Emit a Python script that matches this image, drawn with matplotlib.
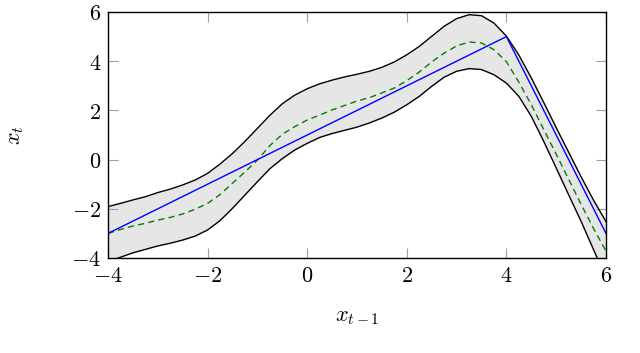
import matplotlib
matplotlib.use("Agg")
import matplotlib.pyplot as plt

plt.rcParams['mathtext.fontset'] = 'cm'
plt.rcParams['font.family'] = 'DejaVu Serif'

# sampled curves (step 0.25 from -4 to 6)
xs = [-4.0, -3.75, -3.5, -3.25, -3.0, -2.75, -2.5, -2.25, -2.0, -1.75,
      -1.5, -1.25, -1.0, -0.75, -0.5, -0.25, 0.0, 0.25, 0.5, 0.75,
      1.0, 1.25, 1.5, 1.75, 2.0, 2.25, 2.5, 2.75, 3.0, 3.25,
      3.5, 3.75, 4.0, 4.25, 4.5, 4.75, 5.0, 5.25, 5.5, 5.75, 6.0]
upper = [-1.91, -1.78, -1.64, -1.51, -1.34, -1.20, -1.03, -0.83, -0.56, -0.18,
         0.25, 0.74, 1.27, 1.80, 2.27, 2.62, 2.88, 3.08, 3.23, 3.36,
         3.47, 3.59, 3.75, 3.97, 4.26, 4.60, 5.01, 5.42, 5.73, 5.89,
         5.85, 5.55, 5.02, 4.25, 3.32, 2.32, 1.30, 0.30, -0.70, -1.65, -2.52]
mean = [-3.00, -2.84, -2.70, -2.59, -2.46, -2.35, -2.21, -2.02, -1.78, -1.42,
        -0.96, -0.50, -0.02, 0.57, 1.03, 1.34, 1.61, 1.81, 2.02, 2.20,
        2.38, 2.52, 2.71, 2.91, 3.21, 3.56, 3.97, 4.33, 4.62, 4.78,
        4.74, 4.47, 3.98, 3.15, 2.23, 1.22, 0.22, -0.80, -1.82, -2.80, -3.72]
lower = [-4.15, -3.97, -3.79, -3.65, -3.51, -3.40, -3.27, -3.11, -2.86, -2.48,
         -1.98, -1.44, -0.90, -0.37, 0.04, 0.39, 0.66, 0.90, 1.06, 1.19,
         1.32, 1.49, 1.69, 1.93, 2.23, 2.57, 2.98, 3.35, 3.59, 3.70,
         3.66, 3.45, 3.11, 2.57, 1.76, 0.74, -0.34, -1.43, -2.51, -3.66, -4.80]

true_x = [-4, 4, 6]
true_y = [-3, 5, -3]

xticks = [-4, -2, 0, 2, 4, 6]
yticks = [-4, -2, 0, 2, 4, 6]

fig = plt.figure(figsize=(6.4, 3.53), dpi=100)
ax = fig.add_axes([108/640, 1-258/353, 498/640, 246/353])

ax.fill_between(xs, lower, upper, color='#e6e6e6', lw=0, zorder=1)
ax.plot(xs, upper, color='black', lw=1.0, zorder=2, solid_joinstyle='round')
ax.plot(xs, lower, color='black', lw=1.0, zorder=2, solid_joinstyle='round')
ax.plot(xs, mean, color='#008000', lw=1.0, ls=(0, (4.5, 3)), zorder=3)
ax.plot(true_x, true_y, color='#0000ff', lw=1.0, zorder=4)

ax.set_xlim(-4, 6)
ax.set_ylim(-4, 6)
ax.set_xticks(xticks)
ax.set_yticks(yticks)
ax.set_xticklabels([f'${t}$' for t in xticks])
ax.set_yticklabels([f'${t}$' for t in yticks])
ax.tick_params(direction='in', length=7, width=0.8, color='#a0a0a0',
               top=True, right=True, labelsize=16, pad=5)
for s in ax.spines.values():
    s.set_linewidth(1.0)
    s.set_zorder(5)

ax.set_xlabel('$x_{t-1}$', fontsize=16)
ax.set_ylabel('$x_t$', fontsize=16)
ax.xaxis.set_label_coords(0.5, -0.19)
ax.yaxis.set_label_coords(-0.165, 0.5)

fig.savefig('out.png', dpi=100)
